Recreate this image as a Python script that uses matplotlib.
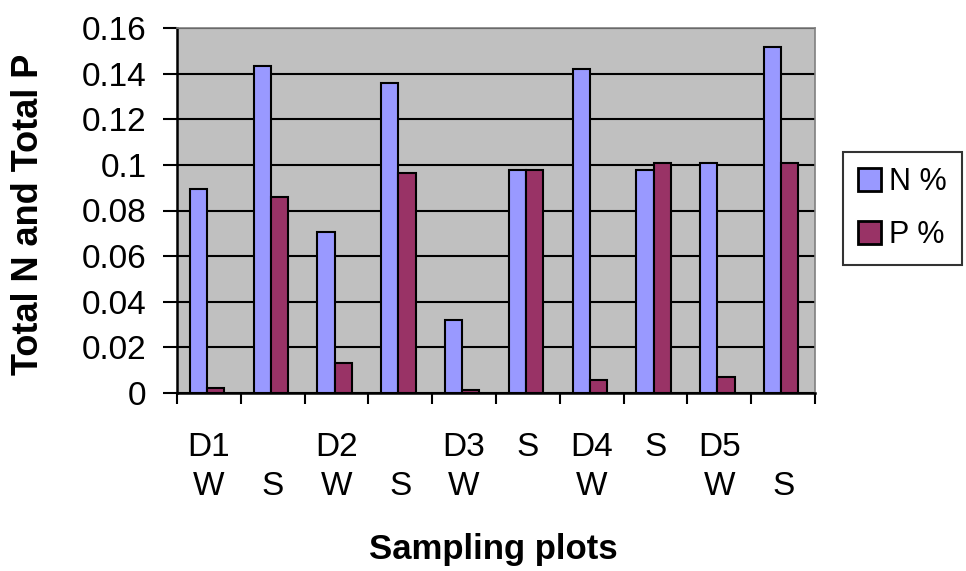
import matplotlib.pyplot as plt
import numpy as np

plt.rcParams['font.family'] = ['Liberation Sans', 'DejaVu Sans']

# x categories (wrapped the way the original spreadsheet shows them)
plot_labels = ['D1\nW', '\nS', 'D2\nW', '\nS', 'D3\nW',
               'S\n', 'D4\nW', 'S\n', 'D5\nW', '\nS']

# percent values per sampling plot
n_pct = [0.0893, 0.1432, 0.0706, 0.1361, 0.0319,
         0.0976, 0.1420, 0.0976, 0.1010, 0.1515]
p_pct = [0.0022, 0.0858, 0.0130, 0.0966, 0.0012,
         0.0976, 0.0059, 0.1010, 0.0070, 0.1010]

N_COLOR = '#9999FF'
P_COLOR = '#993366'


def plot():
    fig = plt.figure(figsize=(9.66, 5.71), dpi=100)
    ax = fig.add_axes([177 / 966, 1 - 393 / 571, 638 / 966, 365 / 571])
    ax.set_facecolor('#C0C0C0')

    x = np.arange(len(plot_labels))
    w = 0.27
    ax.bar(x - w / 2 - 0.03, n_pct, width=w, color=N_COLOR, edgecolor='black',
           linewidth=1.5, label='N %', zorder=3)
    ax.bar(x + w / 2 - 0.03, p_pct, width=w, color=P_COLOR, edgecolor='black',
           linewidth=1.5, label='P %', zorder=3)

    ax.set_xlim(-0.5, len(plot_labels) - 0.5)
    ax.set_ylim(0, 0.16)

    yt = np.arange(0, 0.161, 0.02)
    ax.set_yticks(yt)
    ax.set_yticklabels(['0', '0.02', '0.04', '0.06', '0.08', '0.1',
                        '0.12', '0.14', '0.16'])
    ax.yaxis.grid(True, color='black', linewidth=1.5, zorder=1)
    ax.set_axisbelow(True)
    ax.tick_params(axis='y', length=10, width=1.5, pad=12, labelsize=24)

    # boundary ticks are major, labels sit on minor ticks at group centres
    ax.set_xticks(np.arange(-0.5, len(plot_labels), 1.0))
    ax.set_xticklabels([])
    ax.set_xticks(x, minor=True)
    ax.set_xticklabels(plot_labels, minor=True, fontsize=24,
                       linespacing=1.33)
    ax.tick_params(axis='x', which='major', length=8, width=1.5)
    ax.tick_params(axis='x', which='minor', length=0, pad=28)

    for s in ['left', 'bottom']:
        ax.spines[s].set_linewidth(1.8)
    for s in ['top', 'right']:
        ax.spines[s].set_color('#808080')
        ax.spines[s].set_linewidth(1.2)

    fig.text(493 / 966, 1 - 550 / 571, 'Sampling plots', fontsize=25,
             fontweight='bold', ha='center', va='center')
    fig.text(29 / 966, 1 - 214 / 571, 'Total N and Total P', fontsize=26,
             fontweight='bold', rotation=90, ha='center', va='center')

    leg = fig.legend(loc='upper left', bbox_to_anchor=(843 / 966, 1 - 152 / 571),
                     fontsize=22, frameon=True, fancybox=False,
                     handlelength=0.75, handleheight=0.75, handletextpad=0.25,
                     borderpad=0.5, labelspacing=0.75, borderaxespad=0)
    leg.get_frame().set_edgecolor('black')
    leg.get_frame().set_linewidth(1.5)
    for h in leg.legend_handles:
        h.set_linewidth(2)

    fig.savefig('out.png', dpi=100)


def main():
    plot()


if __name__ == "__main__":
    main()
